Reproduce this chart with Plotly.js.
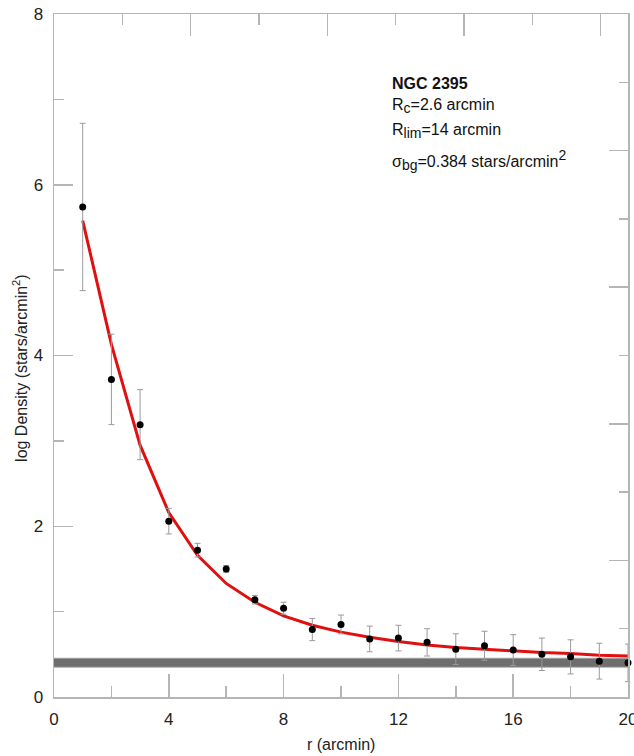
<!DOCTYPE html>
<html>
<head>
<meta charset="utf-8">
<script src="https://cdn.plot.ly/plotly-3.0.1.min.js"></script>
<style>html,body{margin:0;padding:0;background:#fff;}#chart{width:634px;height:756px;}</style>
</head>
<body>
<div id="chart"></div>
<script>
// ---- data ----
const radius = [1,2,3,4,5,6,7,8,9,10,11,12,13,14,15,16,17,18,19,20];
const density = [5.74,3.72,3.19,2.06,1.72,1.50,1.14,1.04,0.79,0.85,0.68,0.69,0.64,0.56,0.60,0.55,0.50,0.47,0.42,0.40];
const densityErr = [0.98,0.53,0.41,0.15,0.08,0.04,0.05,0.07,0.13,0.11,0.15,0.15,0.16,0.18,0.17,0.18,0.19,0.20,0.21,0.22];
const kingFit = [5.58,4.13,2.95,2.16,1.66,1.33,1.11,0.95,0.84,0.76,0.70,0.65,0.61,0.58,0.56,0.54,0.52,0.51,0.49,0.48];
const bgX = [0,20];
const bgLevel = [0.40,0.40];
const xTicks = [0,4,8,12,16,20];
const yTicks = [0,2,4,6,8];
const infoLines = [
  "<b>NGC 2395</b>",
  "R<sub><span style=\"font-size:14px\">c</span></sub>=2.6 arcmin",
  "R<sub><span style=\"font-size:14px\">lim</span></sub>=14 arcmin",
  "σ<sub><span style=\"font-size:14px\">bg</span></sub>=0.384 stars/arcmin<sup><span style=\"font-size:14px\">2</span></sup>"
];
const infoY = [7.19, 6.92, 6.63, 6.29];

const frame = '#b5b5b5';
const font = 'Liberation Sans, Arial, sans-serif';

const traces = [
  {x: bgX, y: bgLevel, mode: 'lines', line: {color: '#a8a8a8', width: 10}, hoverinfo: 'skip', showlegend: false},
  {x: bgX, y: bgLevel, mode: 'lines', line: {color: '#6e6e6e', width: 8}, hoverinfo: 'skip', showlegend: false},
  {x: radius, y: kingFit, mode: 'lines', line: {color: '#e01010', width: 3}, showlegend: false},
  {x: radius, y: density, mode: 'markers', marker: {color: '#000', size: 7},
   error_y: {type: 'data', array: densityErr, visible: true, color: '#9a9a9a', thickness: 1, width: 3},
   cliponaxis: false, showlegend: false},
  {x: [], y: [], xaxis: 'x2', yaxis: 'y2', mode: 'markers', showlegend: false, hoverinfo: 'skip'}
];

const annotations = infoLines.map((t, i) => ({
  x: 11.7, y: infoY[i], xref: 'x', yref: 'y', text: t, showarrow: false,
  xanchor: 'left', yanchor: 'middle', font: {family: font, size: 16, color: '#111'}
}));
annotations.push({x: 0.5, y: -0.069, xref: 'paper', yref: 'paper', text: 'r (arcmin)', showarrow: false,
  xanchor: 'center', yanchor: 'middle', font: {family: font, size: 16, color: '#222'}});
annotations.push({x: -0.059, y: 0.482, xref: 'paper', yref: 'paper', text: 'log Density (stars/arcmin<sup>2</sup>)', showarrow: false,
  textangle: -90, xanchor: 'center', yanchor: 'middle', font: {family: font, size: 16, color: '#222'}});

const layout = {
  width: 634, height: 756,
  margin: {l: 54, r: 6, t: 14, b: 59},
  paper_bgcolor: '#fff', plot_bgcolor: '#fff',
  font: {family: font, size: 17, color: '#222'},
  showlegend: false,
  xaxis: {range: [0, 20.0001], tickvals: xTicks, ticktext: xTicks.map(String), ticks: 'inside', ticklen: 23, tickwidth: 1.5, tickcolor: frame,
    minor: {dtick: 2, ticks: 'inside', ticklen: 11, tickwidth: 1.5, tickcolor: frame},
    showline: true, linecolor: frame, linewidth: 1.5, showgrid: false, zeroline: false, ticklabelstandoff: 6,
    ticklabeloverflow: 'allow',
    tickfont: {family: font, size: 17, color: '#222'}},
  yaxis: {range: [0, 8], tickvals: yTicks, ticktext: yTicks.map(String), ticks: 'inside', ticklen: 19, tickwidth: 1.5, tickcolor: frame,
    minor: {dtick: 1, ticks: 'inside', ticklen: 10, tickwidth: 1.5, tickcolor: frame},
    showline: true, linecolor: frame, linewidth: 1.5, showgrid: false, zeroline: false, ticklabelstandoff: 6,
    ticklabeloverflow: 'allow',
    tickfont: {family: font, size: 17, color: '#222'}},
  xaxis2: {overlaying: 'x', side: 'top', anchor: 'y2', range: [0, 8.4], dtick: 2, tick0: 0, ticks: 'inside', ticklen: 22, tickwidth: 1.5, tickcolor: frame,
    minor: {dtick: 1, ticks: 'inside', ticklen: 11, tickwidth: 1.5, tickcolor: frame},
    showticklabels: false, showline: true, linecolor: frame, linewidth: 1.5, showgrid: false, zeroline: false},
  yaxis2: {overlaying: 'y', side: 'right', anchor: 'x2', range: [0, 10], dtick: 2, tick0: 0, ticks: 'inside', ticklen: 19, tickwidth: 1.5, tickcolor: frame,
    minor: {dtick: 1, ticks: 'inside', ticklen: 9, tickwidth: 1.5, tickcolor: frame},
    showticklabels: false, showline: true, linecolor: frame, linewidth: 1.5, showgrid: false, zeroline: false},
  annotations: annotations
};

Plotly.newPlot('chart', traces, layout, {displayModeBar: false, staticPlot: true});
</script>
</body>
</html>
